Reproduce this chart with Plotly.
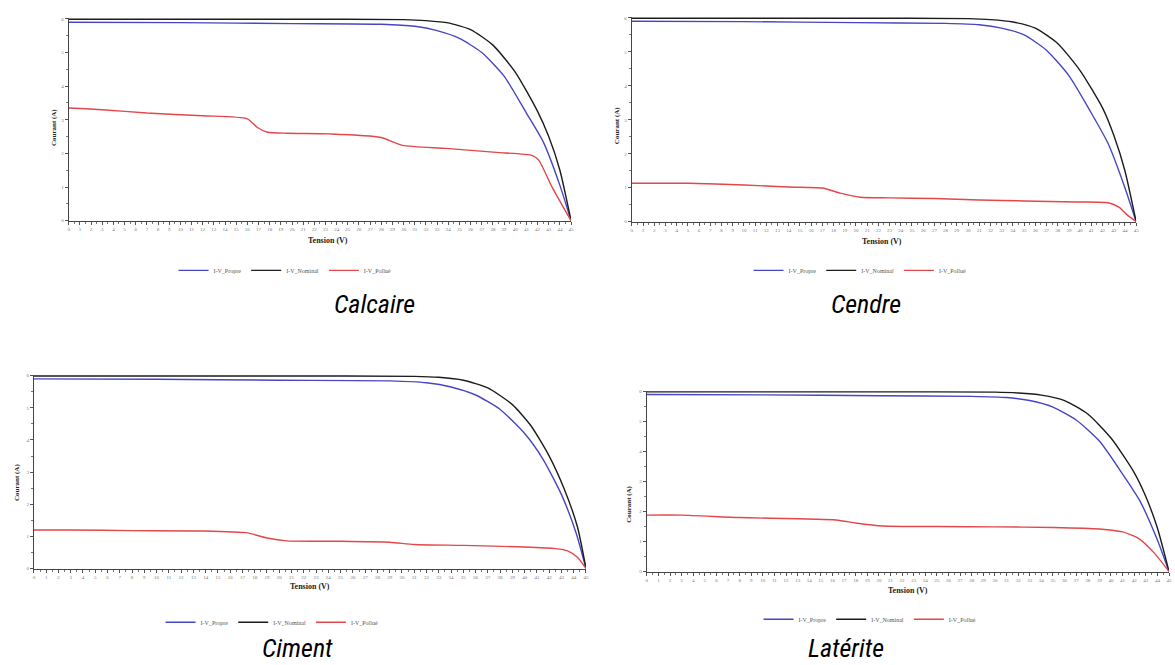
import plotly.graph_objects as go

W, H = 1175, 665

# ---------------- data ----------------
panels = ["Calcaire", "Cendre", "Ciment", "Latérite"]
series_names = ["I-V_Propre", "I-V_Nominal", "I-V_Pollué"]

# Calcaire
calc_v_propre = [0, 10, 20, 28, 31, 33, 35, 37, 39, 41, 42.5, 44, 45]
calc_i_propre = [5.9, 5.89, 5.86, 5.84, 5.78, 5.65, 5.42, 5.0, 4.3, 3.2, 2.35, 1.05, 0]
calc_v_nominal = [0, 10, 20, 30, 32, 34, 36, 38, 40, 42, 43, 44, 45]
calc_i_nominal = [5.99, 5.99, 5.99, 5.98, 5.95, 5.88, 5.68, 5.22, 4.42, 3.25, 2.5, 1.5, 0]
calc_v_pollue = [0, 3, 7, 12, 16, 16.9, 17.8, 19.6, 23.4, 27.9, 29.9, 33.8, 38.3, 41.5, 42.1, 43.3, 45]
calc_i_pollue = [3.35, 3.3, 3.2, 3.12, 3.03, 2.77, 2.63, 2.6, 2.58, 2.48, 2.24, 2.15, 2.03, 1.94, 1.8, 1.0, 0]

# Cendre
cend_v_propre = [0, 10, 20, 28, 31, 33, 35, 37, 39, 41, 42.5, 44, 45]
cend_i_propre = [5.9, 5.89, 5.86, 5.84, 5.8, 5.7, 5.5, 5.05, 4.3, 3.2, 2.3, 1.0, 0]
cend_v_nominal = [0, 10, 20, 30, 32, 34, 36, 38, 40, 42, 43, 44, 45]
cend_i_nominal = [5.99, 5.99, 5.99, 5.98, 5.95, 5.88, 5.7, 5.25, 4.45, 3.35, 2.55, 1.5, 0]
cend_v_pollue = [0, 5, 10, 14, 17, 18.6, 20.4, 23, 27, 31, 35, 39.7, 42.6, 43.5, 44.2, 45]
cend_i_pollue = [1.13, 1.13, 1.08, 1.02, 0.99, 0.84, 0.72, 0.70, 0.68, 0.64, 0.61, 0.58, 0.55, 0.42, 0.2, 0]

# Ciment
cim_v_propre = [0, 10, 20, 29, 32, 34, 36, 38, 40, 41.5, 43, 44.2, 45]
cim_i_propre = [5.9, 5.89, 5.86, 5.84, 5.78, 5.65, 5.4, 4.95, 4.2, 3.4, 2.3, 1.1, 0]
cim_v_nominal = [0, 10, 20, 31, 33, 35, 37, 39, 40.5, 42, 43.2, 44.3, 45]
cim_i_nominal = [5.99, 5.99, 5.99, 5.98, 5.95, 5.86, 5.62, 5.1, 4.45, 3.5, 2.5, 1.3, 0]
cim_v_pollue = [0, 3, 8, 13.6, 17.4, 19, 20.6, 25, 29, 31, 35, 40, 42.5, 43.5, 44.3, 45]
cim_i_pollue = [1.2, 1.2, 1.18, 1.17, 1.11, 0.95, 0.86, 0.85, 0.82, 0.75, 0.72, 0.67, 0.62, 0.55, 0.35, 0]

# Latérite
lat_v_propre = [0, 10, 20, 28, 31, 33, 35, 37, 39, 41, 42.5, 44, 45]
lat_i_propre = [5.9, 5.89, 5.86, 5.84, 5.8, 5.7, 5.48, 5.05, 4.35, 3.25, 2.35, 1.05, 0]
lat_v_nominal = [0, 10, 20, 30, 32, 34, 36, 38, 40, 42, 43, 44, 45]
lat_i_nominal = [5.99, 5.99, 5.99, 5.98, 5.95, 5.88, 5.7, 5.25, 4.45, 3.3, 2.5, 1.45, 0]
lat_v_pollue = [0, 3, 8, 16.3, 18, 20.3, 25, 30, 35, 39, 41, 42.4, 43.7, 45]
lat_i_pollue = [1.88, 1.88, 1.8, 1.72, 1.62, 1.52, 1.5, 1.49, 1.47, 1.42, 1.32, 1.1, 0.63, 0]

data = {
    "Calcaire": [(calc_v_propre, calc_i_propre), (calc_v_nominal, calc_i_nominal), (calc_v_pollue, calc_i_pollue)],
    "Cendre": [(cend_v_propre, cend_i_propre), (cend_v_nominal, cend_i_nominal), (cend_v_pollue, cend_i_pollue)],
    "Ciment": [(cim_v_propre, cim_i_propre), (cim_v_nominal, cim_i_nominal), (cim_v_pollue, cim_i_pollue)],
    "Latérite": [(lat_v_propre, lat_i_propre), (lat_v_nominal, lat_i_nominal), (lat_v_pollue, lat_i_pollue)],
}

x_max = 45
y_max = 6

# ---------------- layout (pixel boxes) ----------------
boxes = {
    "Calcaire": (68, 572, 17, 221),
    "Cendre": (633, 1139, 16, 222),
    "Ciment": (33, 587, 376, 571),
    "Latérite": (648, 1172, 392, 574),
}
ytitle_pos = {"Calcaire": (53, 127), "Cendre": (618, 125), "Ciment": (16, 484), "Latérite": (630, 506)}
xtitle_pos = {"Calcaire": (328, 241), "Cendre": (884, 242), "Ciment": (310, 589), "Latérite": (910, 593)}
legend_pos = {"Calcaire": (285, 271), "Cendre": (862, 271), "Ciment": (272, 625), "Latérite": (872, 622)}
caption_pos = {"Calcaire": (375, 305), "Cendre": (868, 305), "Ciment": (298, 651), "Latérite": (848, 651)}

colors = ["#4646c4", "#1c1c1c", "#e2474a"]

def px(x):
    return x / W

def py(y):
    return 1 - y / H

fig = go.Figure()
legend_ids = ["legend", "legend2", "legend3", "legend4"]

tick_font = dict(family="Liberation Serif, Times New Roman, serif", size=5, color="#777777")
annotations = []
layout_axes = {}

for k, name in enumerate(panels):
    idx = "" if k == 0 else str(k + 1)
    l, r, t, b = boxes[name]
    for j, (vv, ii) in enumerate(data[name]):
        fig.add_trace(go.Scatter(
            x=vv, y=ii, mode="lines", name=series_names[j],
            line=dict(color=colors[j], width=1.4, shape="spline", smoothing=0.6),
            xaxis="x" + idx, yaxis="y" + idx, legend=legend_ids[k],
        ))
    layout_axes["xaxis" + idx] = dict(
        domain=[px(l), px(r)], anchor="y" + idx, range=[0, x_max],
        tickmode="linear", tick0=0, dtick=1, ticks="outside", ticklen=3, tickwidth=0.8,
        tickcolor="#555555", showline=True, linecolor="#444444", linewidth=1,
        showgrid=False, zeroline=False, tickfont=tick_font, tickangle=0,
        minor=dict(dtick=0.5, ticks="outside", ticklen=2, tickcolor="#777777", showgrid=False),
    )
    layout_axes["yaxis" + idx] = dict(
        domain=[py(b), py(t)], anchor="x" + idx, range=[0, 6.03],
        tickmode="linear", tick0=0, dtick=1, ticks="outside", ticklen=3, tickwidth=0.8,
        tickcolor="#555555", showline=True, linecolor="#444444", linewidth=1,
        showgrid=False, zeroline=False, tickfont=tick_font,
        minor=dict(dtick=0.5, ticks="outside", ticklen=2, tickcolor="#777777", showgrid=False),
    )
    common = dict(xref="paper", yref="paper", showarrow=False, xanchor="center", yanchor="middle")
    xt, yt = ytitle_pos[name]
    annotations.append(dict(text="<b>Courant (A)</b>", x=px(xt), y=py(yt), textangle=-90,
                            font=dict(family="Liberation Serif, Times New Roman, serif", size=7, color="#222222"),
                            **common))
    xt, yt = xtitle_pos[name]
    annotations.append(dict(text="<b>Tension (V)</b>", x=px(xt), y=py(yt),
                            font=dict(family="Liberation Serif, Times New Roman, serif", size=8, color="#222222"),
                            **common))
    xc, yc = caption_pos[name]
    annotations.append(dict(text=name, x=px(xc), y=py(yc),
                            font=dict(family="Roboto Condensed, DejaVu Sans Condensed, Roboto, sans-serif",
                                      size=26, color="#000000", style="italic"),
                            **common))

legends = {}
for k, name in enumerate(panels):
    xl, yl = legend_pos[name]
    legends[legend_ids[k]] = dict(
        x=px(xl), y=py(yl), xanchor="center", yanchor="middle", orientation="h",
        font=dict(family="Liberation Serif, Times New Roman, serif", size=6, color="#555555"),
        bgcolor="rgba(0,0,0,0)", itemwidth=30, tracegroupgap=0,
    )

fig.update_layout(
    width=W, height=H, margin=dict(l=0, r=0, t=0, b=0),
    paper_bgcolor="white", plot_bgcolor="white",
    annotations=annotations, showlegend=True,
    **layout_axes, **legends,
)

fig.write_html(
    "out.html",
    config={"displayModeBar": False},
    post_script="document.body.style.margin='0px';document.body.style.overflow='hidden';",
)
